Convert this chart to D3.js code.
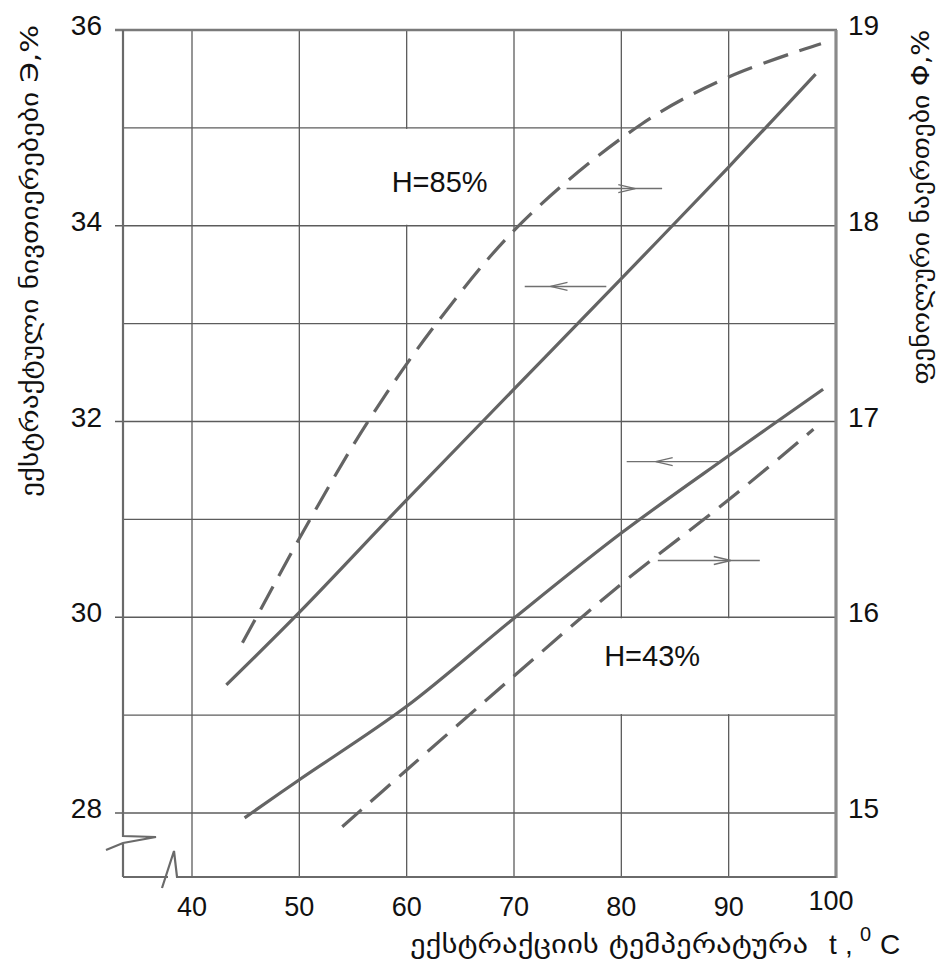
<!DOCTYPE html>
<html>
<head>
<meta charset="utf-8">
<script src="https://cdn.jsdelivr.net/npm/d3@7"></script>
<style>
  html, body { margin: 0; padding: 0; background: #fff; }
  svg { display: block; }
</style>
</head>
<body>
<svg id="chart" width="941" height="973"></svg>
<script>
// ---------------- data ----------------
const tempTicks = [40, 50, 60, 70, 80, 90, 100];
const leftTicks = [28, 30, 32, 34, 36];          // extractive substances Э, %
const rightTicks = [15, 16, 17, 18, 19];         // phenolic compounds Φ, %
const leftGrid = [28, 29, 30, 31, 32, 33, 34, 35];

// H = 85 %  (solid -> left axis Э, dashed -> right axis Φ)
const h85SolidT = [43.2, 50, 60, 70, 80, 90, 98.1];
const h85SolidE = [29.31, 30.05, 31.2, 32.33, 33.46, 34.6, 35.55];
const h85DashT  = [44.7, 46.0, 51.0, 56.4, 62.9, 70.8, 81.9, 90.0, 98.6];
const h85DashF  = [15.87, 16.0, 16.5, 17.0, 17.51, 18.02, 18.52, 18.76, 18.93];

// H = 43 %
const h43SolidT = [44.9, 50, 60, 70, 80, 90, 98.8];
const h43SolidE = [27.95, 28.34, 29.09, 29.99, 30.86, 31.65, 32.33];
const h43DashT  = [54.0, 60.0, 70.0, 80.0, 90.0, 97.9];
const h43DashF  = [14.93, 15.22, 15.70, 16.17, 16.60, 16.96];

// annotation arrows (temperature span, level on left axis, tip, direction)
const arrowT1  = [74.9, 71.0, 80.5, 83.4];
const arrowT2  = [83.8, 78.6, 89.2, 92.9];
const arrowE   = [34.38, 33.38, 31.59, 30.58];
const arrowTip = [81.3, 73.4, 83.2, 90.2];
const arrowDir = [1, -1, -1, 1];

const seriesLabels = ["H=85%", "H=43%"];
const seriesLabelT = [58.6, 78.4];
const seriesLabelE = [34.34, 29.5];

const leftTitle  = "ექსტრაქტული ნივთიერებები Э,%";
const rightTitle = "ფენოლური ნაერთები Φ,%";
const xTitle     = "ექსტრაქციის ტემპერატურა";

// ---------------- scales ----------------
const svg = d3.select("#chart");
const x  = d3.scaleLinear().domain([40, 100]).range([192, 836]);
const yL = d3.scaleLinear().domain([28, 36]).range([813, 30]);
const yR = d3.scaleLinear().domain([15, 19]).range([813, 30]);

const pLeft = 123, pRight = x(100), pTop = yL(36), pBottom = 877;

const gridColor = "#5c5c5c";
const curveColor = "#646464";
const numFont = "'Liberation Sans', Arial, sans-serif";
const geoFont = "'DejaVu Sans', sans-serif";

// ---------------- grid ----------------
const g = svg.append("g");
g.selectAll("line.v").data(tempTicks.slice(0, -1)).enter().append("line")
  .attr("x1", d => x(d)).attr("x2", d => x(d))
  .attr("y1", pTop).attr("y2", pBottom)
  .attr("stroke", gridColor).attr("stroke-width", 1.3);

// white label cells (vertical grid lines interrupted behind the labels)
const cellT1 = [50, 70], cellT2 = [70, 100], cellE1 = [34, 29], cellE2 = [35, 30];
g.selectAll("rect.cell").data(cellT1).enter().append("rect")
  .attr("x", (d, i) => x(cellT1[i]) + 1.5)
  .attr("width", (d, i) => x(cellT2[i]) - x(cellT1[i]) - 3)
  .attr("y", (d, i) => yL(cellE2[i]) + 1)
  .attr("height", (d, i) => yL(cellE1[i]) - yL(cellE2[i]) - 2)
  .attr("fill", "#fff");

g.selectAll("line.h").data(leftGrid).enter().append("line")
  .attr("x1", d => (d % 2 === 0 ? 115 : pLeft)).attr("x2", pRight)
  .attr("y1", d => yL(d)).attr("y2", d => yL(d))
  .attr("stroke", gridColor).attr("stroke-width", 1.3);

// frame
g.append("line").attr("x1", 115).attr("x2", pRight + 1).attr("y1", pTop).attr("y2", pTop)
  .attr("stroke", "#7a7a7a").attr("stroke-width", 2.6);
g.append("line").attr("x1", pRight).attr("x2", pRight).attr("y1", pTop).attr("y2", pBottom + 1)
  .attr("stroke", "#8a8a8a").attr("stroke-width", 3.2);
g.append("path")
  .attr("d", `M${pLeft},${pTop} L${pLeft},836 L156,837 L${pLeft},843 L106,850 M${pLeft},843 L${pLeft},${pBottom}`)
  .attr("fill", "none").attr("stroke", "#6a6a6a").attr("stroke-width", 2.2);
g.append("path")
  .attr("d", `M${pLeft},${pBottom} L168,${pBottom} M162,888 L174,851 L177,${pBottom} L${pRight},${pBottom}`)
  .attr("fill", "none").attr("stroke", "#6a6a6a").attr("stroke-width", 2.2);

// ---------------- tick labels ----------------
svg.selectAll("text.lt").data(leftTicks).enter().append("text")
  .attr("x", 102).attr("y", d => yL(d) + 5)
  .attr("text-anchor", "end")
  .attr("font-family", numFont).attr("font-size", 28).attr("fill", "#111")
  .text(d => d);
svg.selectAll("text.rt").data(rightTicks).enter().append("text")
  .attr("x", 848).attr("y", d => yR(d) + 5)
  .attr("text-anchor", "start")
  .attr("font-family", numFont).attr("font-size", 28).attr("fill", "#111")
  .text(d => d);
svg.selectAll("text.bt").data(tempTicks).enter().append("text")
  .attr("x", d => x(d) - (d === 100 ? 5 : 0)).attr("y", d => (d === 100 ? 910 : 916))
  .attr("text-anchor", "middle")
  .attr("font-family", numFont).attr("font-size", 27).attr("fill", "#111")
  .text(d => d);

// ---------------- curves ----------------
const lineL = d3.line().x(d => x(d[0])).y(d => yL(d[1])).curve(d3.curveCatmullRom.alpha(0.5));
const lineR = d3.line().x(d => x(d[0])).y(d => yR(d[1])).curve(d3.curveCatmullRom.alpha(0.5));
const zip = (a, b) => a.map((v, i) => [v, b[i]]);

svg.append("path").attr("d", lineL(zip(h85SolidT, h85SolidE)))
  .attr("fill", "none").attr("stroke", curveColor).attr("stroke-width", 3.2);
svg.append("path").attr("d", lineL(zip(h43SolidT, h43SolidE)))
  .attr("fill", "none").attr("stroke", curveColor).attr("stroke-width", 3.2);
svg.append("path").attr("d", lineR(zip(h85DashT, h85DashF)))
  .attr("fill", "none").attr("stroke", curveColor).attr("stroke-width", 3.2)
  .attr("stroke-dasharray", "26,12");
svg.append("path").attr("d", lineR(zip(h43DashT, h43DashF)))
  .attr("fill", "none").attr("stroke", curveColor).attr("stroke-width", 3.2)
  .attr("stroke-dasharray", "26,12");

// ---------------- arrows ----------------
const ag = svg.append("g").attr("stroke", "#707070").attr("stroke-width", 1.4).attr("fill", "none");
arrowT1.forEach((t1, i) => {
  const yy = yL(arrowE[i]);
  ag.append("line").attr("x1", x(t1)).attr("x2", x(arrowT2[i])).attr("y1", yy).attr("y2", yy);
  const tip = x(arrowTip[i]);
  const back = tip - arrowDir[i] * 17;
  ag.append("path").attr("d", `M${back},${yy - 4} L${tip},${yy} L${back},${yy + 4}`);
});

// ---------------- series labels ----------------
svg.selectAll("text.sl").data(seriesLabels).enter().append("text")
  .attr("x", (d, i) => x(seriesLabelT[i])).attr("y", (d, i) => yL(seriesLabelE[i]))
  .attr("font-family", numFont).attr("font-size", 29).attr("fill", "#111")
  .text(d => d);

// ---------------- axis titles ----------------
svg.append("text")
  .attr("transform", "translate(38,261) rotate(-90)")
  .attr("text-anchor", "middle")
  .attr("font-family", geoFont).attr("font-size", 24).attr("fill", "#111")
  .attr("textLength", 472).attr("lengthAdjust", "spacingAndGlyphs")
  .text(leftTitle);
svg.append("text")
  .attr("transform", "translate(929,207) rotate(-90)")
  .attr("text-anchor", "middle")
  .attr("font-family", geoFont).attr("font-size", 24).attr("fill", "#111")
  .attr("textLength", 355).attr("lengthAdjust", "spacingAndGlyphs")
  .text(rightTitle);

svg.append("text")
  .attr("x", 410).attr("y", 953)
  .attr("font-family", geoFont).attr("font-size", 25).attr("fill", "#111")
  .attr("textLength", 398).attr("lengthAdjust", "spacingAndGlyphs")
  .text(xTitle);
const xt2 = svg.append("text").attr("y", 954)
  .attr("font-family", numFont).attr("font-size", 28).attr("fill", "#111");
xt2.append("tspan").attr("x", 829).text("t");
xt2.append("tspan").attr("x", 845).text(",");
xt2.append("tspan").attr("x", 860).attr("font-size", 20).attr("dy", -13).text("0");
xt2.append("tspan").attr("x", 880).attr("dy", 13).text("C");
</script>
</body>
</html>
